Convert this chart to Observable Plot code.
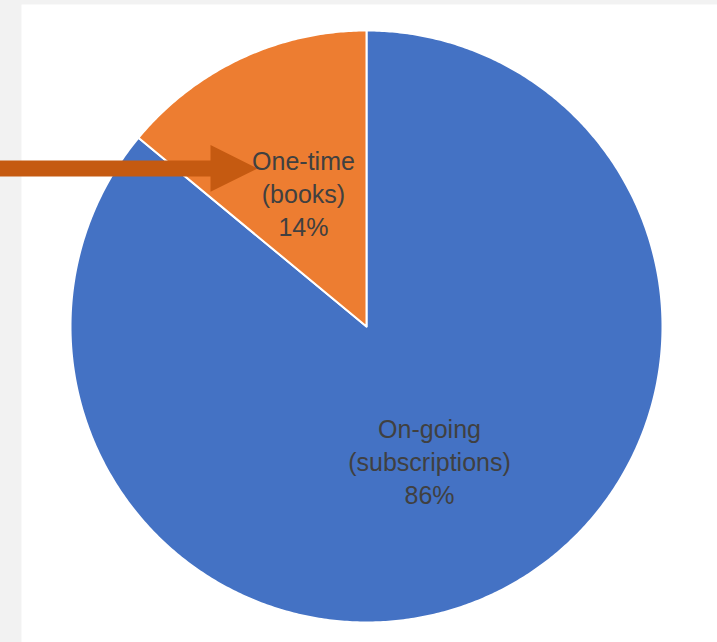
<!DOCTYPE html>
<html>
<head>
<meta charset="utf-8">
<script src="https://cdn.jsdelivr.net/npm/d3@7"></script>
<script src="https://cdn.jsdelivr.net/npm/@observablehq/plot@0.6"></script>
<style>
  html, body { margin: 0; padding: 0; background: #F2F2F2; }
</style>
</head>
<body>
<div id="chart"></div>
<script>
// ---- data ----
const categories = ["On-going", "One-time"];
const details = ["(subscriptions)", "(books)"];
const values = [86, 14];
const colors = ["#4472C4", "#ED7D31"];

// ---- derived geometry (in unit-circle data space) ----
const arcs = d3.pie().sort(null).value(d => d)(values);
const slices = [];
arcs.forEach((a, i) => {
  const steps = Math.max(2, Math.ceil((a.endAngle - a.startAngle) / (Math.PI / 360)));
  slices.push({i, x: 0, y: 0});
  for (let k = 0; k <= steps; k++) {
    const t = a.startAngle + (a.endAngle - a.startAngle) * k / steps;
    slices.push({i, x: Math.sin(t), y: Math.cos(t)});
  }
  slices.push({i, x: 0, y: 0});
});
const labels = arcs.map((a, i) => {
  const m = (a.startAngle + a.endAngle) / 2;
  return {
    i,
    x: 0.5 * Math.sin(m),
    y: 0.5 * Math.cos(m),
    text: `${categories[i]}\n${details[i]}\n${values[i]}%`
  };
});

// arrow annotation pointing at the "One-time" label
const arrowY = 0.534, tailX = -1.24, tipX = -0.368, headX = -0.527, shaft = 0.027, head = 0.079;
const arrow = [
  {x: tailX, y: arrowY + shaft}, {x: headX, y: arrowY + shaft}, {x: headX, y: arrowY + head},
  {x: tipX, y: arrowY}, {x: headX, y: arrowY - head}, {x: headX, y: arrowY - shaft},
  {x: tailX, y: arrowY - shaft}
];

const chart = Plot.plot({
  width: 717,
  height: 642,
  marginLeft: 21, marginTop: 4, marginRight: 0, marginBottom: 0,
  style: {background: "#F2F2F2"},
  x: {domain: [-1, 1], range: [70, 662], axis: null},
  y: {domain: [-1, 1], range: [622, 30], axis: null},
  color: {domain: d3.range(categories.length), range: colors},
  marks: [
    Plot.frame({fill: "white", stroke: "none"}),
    Plot.line(slices, {x: "x", y: "y", z: "i", fill: "i", stroke: "white", strokeWidth: 2, strokeLinejoin: "round", curve: "linear"}),
    Plot.line(arrow, {x: "x", y: "y", fill: "#C55A11", stroke: "none"}),
    Plot.text(labels, {
      x: "x", y: "y", text: "text",
      fontSize: 25, lineHeight: 1.32, lineAnchor: "middle",
      fontFamily: "Liberation Sans, Arial, sans-serif",
      fill: "#404040"
    })
  ]
});
document.getElementById("chart").appendChild(chart);
</script>
</body>
</html>
